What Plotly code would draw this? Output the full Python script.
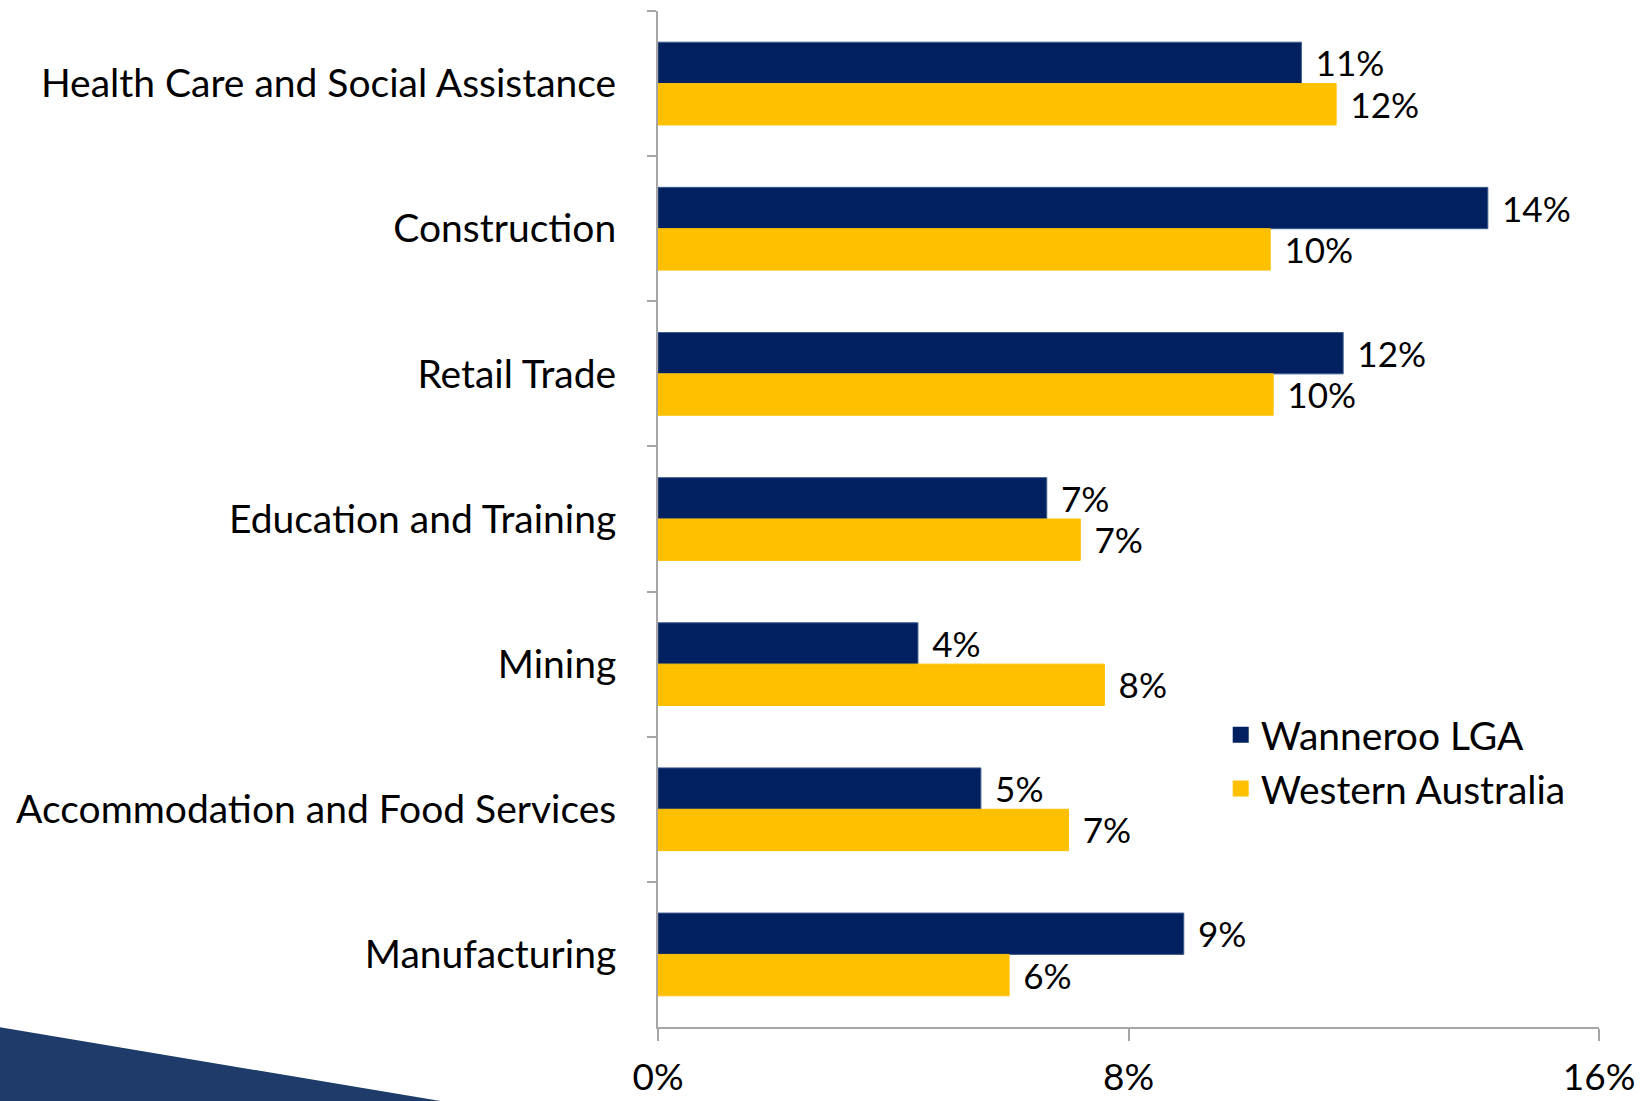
import plotly.graph_objects as go

categories = [
    "Health Care and Social Assistance",
    "Construction",
    "Retail Trade",
    "Education and Training",
    "Mining",
    "Accommodation and Food Services",
    "Manufacturing",
]
wanneroo = [0.1094, 0.1411, 0.1165, 0.0661, 0.0442, 0.0549, 0.0894]
western_australia = [0.1153, 0.1041, 0.1046, 0.0718, 0.0759, 0.0698, 0.0597]
x_ticks = [0, 0.08, 0.16]
x_tick_labels = ["0%", "8%", "16%"]
series_names = ["Wanneroo LGA", "Western Australia"]

FONT = "Lato, Carlito, Calibri, sans-serif"
FS_CAT = 39
FS_NUM = 37
FS_LBL = 39
NAVY = "#002060"
GOLD = "#FFC000"
AXIS = "#A6A6A6"

fig = go.Figure()
for name, vals, col, edge in [
    (series_names[0], wanneroo, NAVY, "#3E5C8E"),
    (series_names[1], western_australia, GOLD, GOLD),
]:
    fig.add_trace(go.Bar(
        y=categories, x=vals, orientation="h", name=name,
        marker=dict(color=col, line=dict(color=edge, width=1)),
        texttemplate="\u00a0\u200a%{x:.0%}", textposition="outside",
        textfont=dict(family=FONT, size=FS_LBL, color="black"),
        cliponaxis=False, showlegend=False,
    ))
# legend entries with larger square swatches
for name, col in [(series_names[0], NAVY), (series_names[1], GOLD)]:
    fig.add_trace(go.Scatter(
        x=[None], y=[None], mode="markers", name=name,
        marker=dict(symbol="square", size=16, color=col),
        showlegend=True, hoverinfo="skip",
    ))

L, R, T, B = 658, 45, 11, 74
W, H = 1644, 1101
pw = W - L - R
ph = H - T - B

def px(x):
    return (x - L) / pw

def py(y):
    return (H - B - y) / ph

# decorative slanted band, bottom-left
path = "M {} {} L {} {} L {} {} L {} {} Z".format(
    px(-2), py(1027), px(560), py(1121), px(-2), py(1121), px(-2), py(1027))
fig.add_shape(type="path", path=path, xref="paper", yref="paper",
              fillcolor="#1F3B69", line=dict(width=0), layer="below")

fig.update_layout(
    width=W, height=H,
    margin=dict(l=L, r=R, t=T, b=B, autoexpand=False),
    plot_bgcolor="white", paper_bgcolor="white",
    barmode="group", bargap=0.43, bargroupgap=0,
    font=dict(family=FONT, size=FS_CAT, color="black"),
    showlegend=True,
    legend=dict(
        x=0.598, y=0.319, xanchor="left", yanchor="top",
        traceorder="normal", font=dict(family=FONT, size=FS_CAT, color="black"),
        bgcolor="rgba(0,0,0,0)", itemwidth=30,
    ),
)
fig.update_yaxes(
    type="category", categoryorder="array", categoryarray=categories,
    autorange="reversed", showline=True, linecolor=AXIS, linewidth=2,
    ticks="outside", ticklen=9, tickwidth=2, tickcolor=AXIS,
    tickson="boundaries", showgrid=False, zeroline=False,
    tickfont=dict(family=FONT, size=FS_CAT, color="black"),
    ticklabelstandoff=32, automargin=False,
)
fig.update_xaxes(
    range=[0, 0.16], tickvals=x_ticks, ticktext=x_tick_labels,
    showline=True, linecolor=AXIS, linewidth=2,
    ticks="outside", ticklen=12, tickwidth=2, tickcolor=AXIS,
    showgrid=False, zeroline=False,
    tickfont=dict(family=FONT, size=FS_NUM, color="black"),
    ticklabelstandoff=5, automargin=False,
)

fig.write_html(
    "out.html",
    config={"displayModeBar": False},
    post_script="document.body.style.margin='0';document.body.style.overflow='hidden';",
)
